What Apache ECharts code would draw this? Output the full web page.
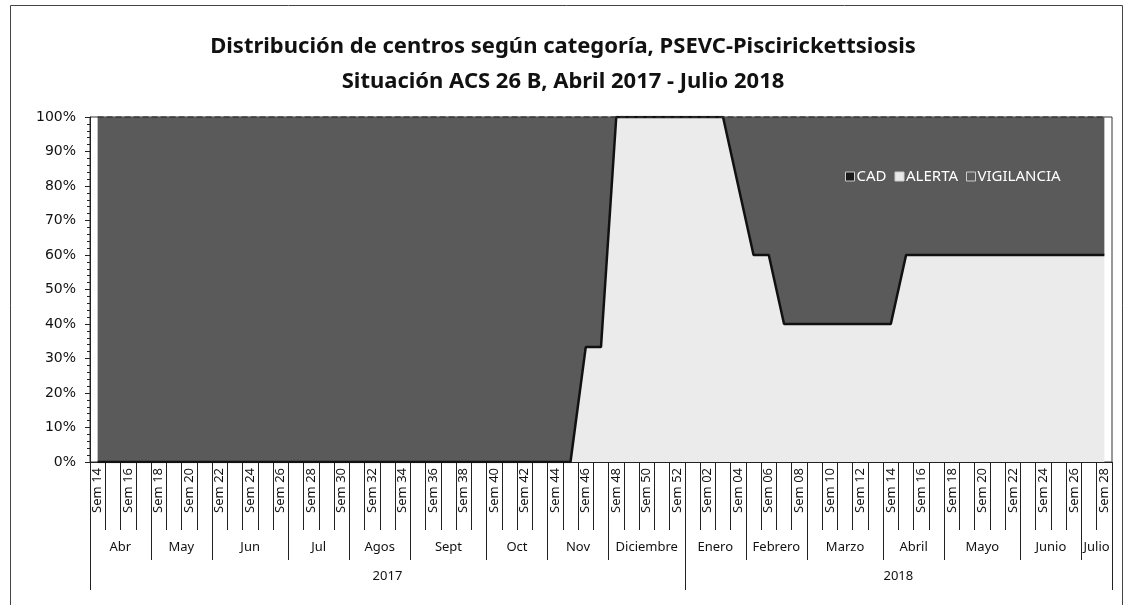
<!DOCTYPE html>
<html>
<head>
<meta charset="utf-8">
<script src="https://cdn.jsdelivr.net/npm/echarts@6/dist/echarts.min.js"></script>
<style>
  html, body { margin: 0; padding: 0; background: #fff; }
  #chart { width: 1126px; height: 605px; }
</style>
</head>
<body>
<div id="chart"></div>
<script>
// semanas (eje de categorías)
var weeks = [
  'Sem 14','Sem 15','Sem 16','Sem 17','Sem 18','Sem 19','Sem 20','Sem 21','Sem 22','Sem 23',
  'Sem 24','Sem 25','Sem 26','Sem 27','Sem 28','Sem 29','Sem 30','Sem 31','Sem 32','Sem 33',
  'Sem 34','Sem 35','Sem 36','Sem 37','Sem 38','Sem 39','Sem 40','Sem 41','Sem 42','Sem 43',
  'Sem 44','Sem 45','Sem 46','Sem 47','Sem 48','Sem 49','Sem 50','Sem 51','Sem 52',
  'Sem 01','Sem 02','Sem 03','Sem 04','Sem 05','Sem 06','Sem 07','Sem 08','Sem 09','Sem 10',
  'Sem 11','Sem 12','Sem 13','Sem 14','Sem 15','Sem 16','Sem 17','Sem 18','Sem 19','Sem 20',
  'Sem 21','Sem 22','Sem 23','Sem 24','Sem 25','Sem 26','Sem 27','Sem 28'
];

// meses y cantidad de semanas de cada uno
var months = ['Abr','May','Jun','Jul','Agos','Sept','Oct','Nov','Diciembre',
              'Enero','Febrero','Marzo','Abril','Mayo','Junio','Julio'];
var monthWeeks = [4, 4, 5, 4, 4, 5, 4, 4, 5, 4, 4, 5, 4, 5, 4, 2];

var years = ['2017', '2018'];
var yearWeeks = [39, 28];

// % de centros por categoria
var cad = [
  0,0,0,0,0,0,0,0,0,0, 0,0,0,0,0,0,0,0,0,0, 0,0,0,0,0,0,0,0,0,0,
  0,0,0,0,0,0,0,0,0,0, 0,0,0,0,0,0,0,0,0,0, 0,0,0,0,0,0,0,0,0,0,
  0,0,0,0,0,0,0
];
var alerta = [
  0,0,0,0,0,0,0,0,0,0, 0,0,0,0,0,0,0,0,0,0, 0,0,0,0,0,0,0,0,0,0,
  0,0,33.3,33.3,100,100,100,100,100,100, 100,100,80,60,60,40,40,40,40,40,
  40,40,40,60,60,60,60,60,60,60, 60,60,60,60,60,60,60
];
var vigilancia = [
  100,100,100,100,100,100,100,100,100,100, 100,100,100,100,100,100,100,100,100,100,
  100,100,100,100,100,100,100,100,100,100, 100,100,66.7,66.7,0,0,0,0,0,0,
  0,0,20,40,40,60,60,60,60,60, 60,60,60,40,40,40,40,40,40,40,
  40,40,40,40,40,40,40
];

// posiciones (inicio de cada grupo y celda donde va la etiqueta)
function groupInfo(counts) {
  var starts = {}, labelAt = {}, pos = 0;
  for (var i = 0; i < counts.length; i++) {
    starts[pos] = true;
    var n = counts[i];
    var c = n % 2 ? pos + (n - 1) / 2 : pos + n / 2 - 1;
    labelAt[c] = { idx: i, even: n % 2 === 0 };
    pos += n;
  }
  return { starts: starts, labelAt: labelAt };
}
var mInfo = groupInfo(monthWeeks);
var yInfo = groupInfo(yearWeeks);

var lblFont = 'Noto Sans';
var lineCol = '#222';

function groupAxis(info, names, offset, tickLen, margin) {
  return {
    type: 'category',
    gridIndex: 0,
    position: 'bottom',
    offset: offset,
    data: weeks,
    axisLine: { show: false },
    axisTick: {
      show: true,
      length: tickLen,
      interval: function (i) { return !!info.starts[i]; },
      lineStyle: { color: lineCol, width: 1 }
    },
    axisLabel: {
      margin: margin,
      interval: function (i) { return !!info.labelAt[i]; },
      formatter: function (v, i) {
        var l = info.labelAt[i];
        if (!l) return '';
        return (l.even ? '{e|' : '{o|') + names[l.idx] + '}';
      },
      rich: {
        e: { padding: [0, 0, 0, 15], fontSize: 13, fontFamily: lblFont, color: '#111' },
        o: { fontSize: 13, fontFamily: lblFont, color: '#111' }
      }
    },
    splitLine: { show: false }
  };
}

var myChart = echarts.init(document.getElementById('chart'));

var option = {
  backgroundColor: '#fff',
  animation: false,
  title: {
    text: 'Distribución de centros según categoría, PSEVC-Piscirickettsiosis\nSituación ACS 26 B, Abril 2017 - Julio 2018',
    left: 'center',
    top: 24,
    textStyle: {
      fontFamily: 'Noto Sans',
      fontWeight: 'bold',
      fontSize: 22,
      lineHeight: 35,
      color: '#111'
    }
  },
  graphic: [{
    type: 'rect',
    left: 8, top: 3,
    shape: { width: 1112, height: 640 },
    style: { fill: 'none', stroke: '#444', lineWidth: 1 },
    silent: true
  }],
  legend: {
    data: ['CAD', 'ALERTA', 'VIGILANCIA'],
    left: 840,
    top: 164,
    icon: 'rect',
    itemWidth: 9,
    itemHeight: 9,
    itemGap: 8,
    itemStyle: { borderColor: '#ccc', borderWidth: 1 },
    textStyle: { fontFamily: lblFont, fontSize: 15, color: '#fff', padding: [0, 0, 0, -3] }
  },
  grid: {
    left: 90, right: 14, top: 117, bottom: 143,
    show: true, borderColor: '#333', borderWidth: 1
  },
  xAxis: [
    {
      type: 'category',
      data: weeks,
      boundaryGap: true,
      axisLine: { show: true, lineStyle: { color: lineCol } },
      axisTick: { show: true, interval: 0, length: 68, lineStyle: { color: lineCol } },
      axisLabel: {
        interval: 1,
        rotate: 90,
        margin: 6,
        fontFamily: lblFont,
        fontSize: 13,
        color: '#111'
      },
      splitLine: { show: false }
    },
    groupAxis(mInfo, months, 68, 30, 11),
    groupAxis(yInfo, years, 98, 30, 10)
  ],
  yAxis: {
    type: 'value',
    min: 0,
    max: 100,
    interval: 10,
    axisLine: { show: true, lineStyle: { color: lineCol } },
    axisTick: { show: true, length: 5, lineStyle: { color: lineCol } },
    minorTick: { show: true, splitNumber: 5, length: 3, lineStyle: { color: lineCol } },
    splitLine: { show: false },
    axisLabel: {
      formatter: '{value}%',
      margin: 14,
      fontFamily: 'DejaVu Sans',
      fontSize: 14,
      color: '#111'
    }
  },
  series: [
    {
      name: 'CAD', type: 'line', stack: 'total', data: cad,
      symbol: 'none',
      itemStyle: { color: '#1a1a1a' },
      lineStyle: { width: 0 },
      areaStyle: { color: '#1a1a1a', opacity: 1 }
    },
    {
      name: 'ALERTA', type: 'line', stack: 'total', data: alerta,
      symbol: 'none',
      itemStyle: { color: '#e9e9e9' },
      lineStyle: { width: 2.5, color: '#111' },
      areaStyle: { color: '#ebebeb', opacity: 1 }
    },
    {
      name: 'VIGILANCIA', type: 'line', stack: 'total', data: vigilancia,
      symbol: 'none',
      itemStyle: { color: '#5a5a5a' },
      lineStyle: { width: 1.5, color: '#333', type: 'dashed' },
      areaStyle: { color: '#5a5a5a', opacity: 1 }
    }
  ]
};

myChart.setOption(option);
</script>
</body>
</html>
